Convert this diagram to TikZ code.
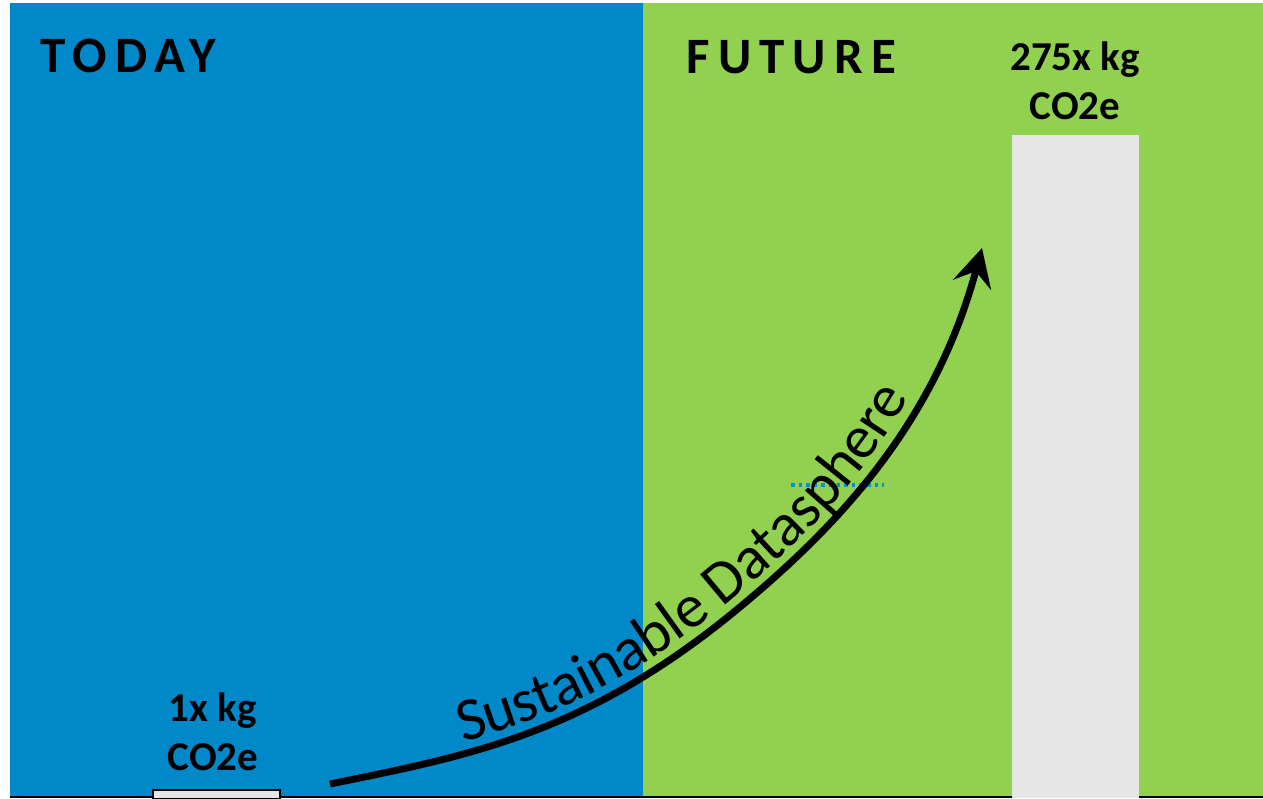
\documentclass[tikz,border=0pt]{standalone}
\usepackage{fontspec}
\setmainfont{Carlito}
\newfontfamily\headfont[LetterSpace=16]{Carlito}
\usetikzlibrary{arrows.meta}
\usetikzlibrary{decorations.text}
\usepackage{xcolor}
\definecolor{todayblue}{HTML}{0088C9}
\definecolor{futuregreen}{HTML}{92D050}
\definecolor{barfill}{HTML}{E6E6E6}

\begin{document}
\begin{tikzpicture}[x=1pt, y=-1pt,
    heading/.style={anchor=base west, font=\headfont\bfseries\fontsize{51}{60}\selectfont},
    amount/.style={align=center, font=\bfseries\fontsize{41}{49}\selectfont, inner sep=0pt}]

        \useasboundingbox (0,0) rectangle (1263,798);

        \fill[todayblue] (10,3) rectangle (643,798);
        \fill[futuregreen] (643,3) rectangle (1263,798);
        \draw[line width=1.5pt] (10,797) -- (1263,797);

        \draw[line width=1.5pt, fill=barfill] (153,790) rectangle (280,799);
        \fill[barfill] (1012,135) rectangle (1139,798);

        \node[heading] (today) at (37,72) {TODAY};
        \node[heading] (future) at (683,73) {FUTURE};

        \node[amount, anchor=south] (lowlabel) at (213,771) {1x kg\\CO2e};
        \node[amount, anchor=south] (highlabel) at (1075,120) {275x kg\\CO2e};

        \draw[todayblue!90!cyan, line width=3.6pt, dash pattern=on 3.6pt off 4pt] (791,485) -- (884,485);

        \draw [-{Stealth[length=38pt, width=39pt, inset=14pt]}, line width=7pt,
               postaction={decorate, decoration={text along path, raise=11pt,
               text align={left indent=140pt},
               text={|\fontsize{61}{70}\selectfont|Sustainable Datasphere}}}]
            (330,784) .. controls (467,756) and (586,735) .. (740,607)
                      .. controls (840,524) and (935,422) .. (982,248);

      \end{tikzpicture}
\end{document}
